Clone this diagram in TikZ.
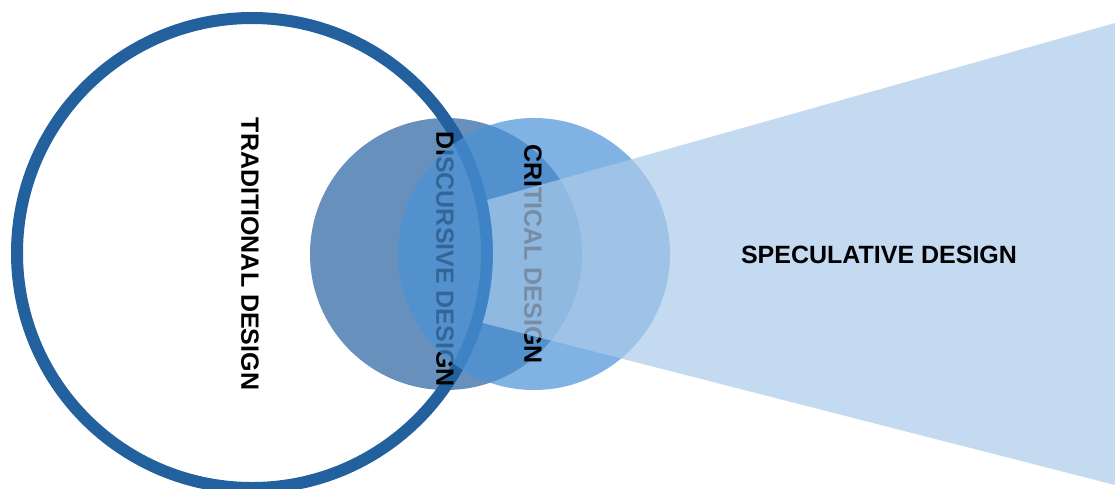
\documentclass[tikz,border=0pt]{standalone}
\usepackage{fontspec}
\setmainfont{Liberation Sans}
\definecolor{ringblue}{RGB}{35,96,158}
\definecolor{discblue}{RGB}{103,145,188}
\definecolor{critblue}{RGB}{74,146,215}
\definecolor{specblue}{RGB}{171,202,234}
\tikzset{
  labeltext/.style={font=\bfseries\fontsize{25}{30}\selectfont, inner sep=0pt},
  vlabel/.style={labeltext, rotate=-90},
  veil/.style={fill opacity=0.7}
}
\begin{document}
\begin{tikzpicture}[x=1pt,y=-1pt]
\useasboundingbox (0,0) rectangle (1115,488);
% discursive disc, then the traditional ring over it
\fill[discblue] (446,254) circle (136);
\draw[ringblue, line width=12pt] (252,253) circle (235);
\node[vlabel] (trad) at (250,254) {TRADITIONAL DESIGN};
\node[vlabel] (disc) at (445,259) {DISCURSIVE DESIGN};
% critical disc, translucent
\fill[critblue, veil] (534,254) circle (136);
\node[vlabel] (crit) at (533,254) {CRITICAL DESIGN};
% speculative cone, starting at the outer edge of the ring
\begin{scope}[even odd rule]
  \clip (0,0) rectangle (1115,488) (252,253) circle (241);
  \fill[specblue, veil] (256.5,265) -- (1115,23) -- (1115,485) -- cycle;
\end{scope}
\node[labeltext] (spec) at (879,255) {SPECULATIVE DESIGN};
\end{tikzpicture}
\end{document}
